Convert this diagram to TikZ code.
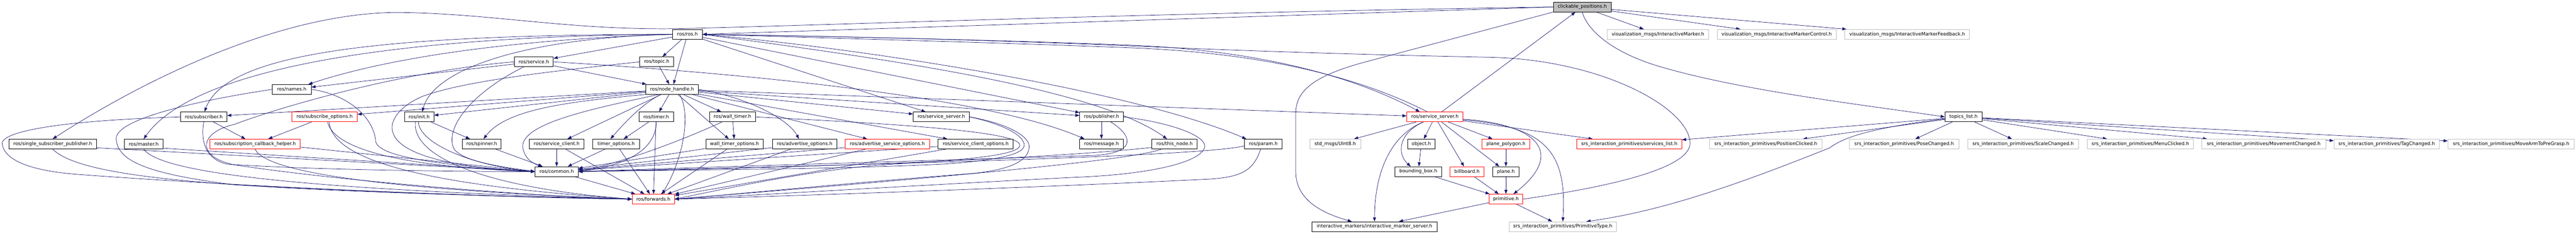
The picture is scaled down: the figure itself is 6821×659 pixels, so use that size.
\documentclass[tikz,border=0pt]{standalone}
\usepackage{fontspec}
\setmainfont{DejaVu Sans}
\usetikzlibrary{arrows.meta}
\definecolor{edgeblue}{HTML}{191970}
\definecolor{lgray}{HTML}{BFBFBF}
\newcommand\hfnt{\fontsize{12.6}{14}\selectfont}
\pgfdeclarelayer{edges}
\pgfsetlayers{edges,main}
\begin{document}
\begin{tikzpicture}[x=1pt,y=-1pt,
  hb/.style={draw=black, line width=1.1pt, rectangle, minimum height=26pt, inner sep=0pt, font=\hfnt, fill=white},
  hr/.style={hb, draw=red},
  hg/.style={hb, draw=lgray},
  dep/.style={draw=edgeblue, line width=1pt, -{Triangle[length=11pt,width=8pt]}}]
\useasboundingbox (0,0) rectangle (6821,659);
% ---------------- nodes ----------------
\node[hb, minimum width=153pt, fill=lgray] (cp) at (4189.5,18.5) {clickable\_positions.h};
\node[hb, minimum width=79pt] (ros) at (1820.5,91) {ros/ros.h};
\node[hg, minimum width=268pt] (vim) at (4390,91) {visualization\_msgs/InteractiveMarker.h};
\node[hg, minimum width=315pt] (vimc) at (4704.5,91) {visualization\_msgs/InteractiveMarkerControl.h};
\node[hg, minimum width=330pt] (vimf) at (5050,91) {visualization\_msgs/InteractiveMarkerFeedback.h};
\node[hb, minimum width=103pt] (service) at (1413.5,164) {ros/service.h};
\node[hb, minimum width=90pt] (topic) at (1739,164) {ros/topic.h};
\node[hb, minimum width=103pt] (names) at (772.5,237) {ros/names.h};
\node[hb, minimum width=139pt] (nh) at (1779.5,237) {ros/node\_handle.h};
\node[hb, minimum width=123pt] (sub) at (539.5,310) {ros/subscriber.h};
\node[hr, minimum width=173pt] (subopt) at (859.5,310) {ros/subscribe\_options.h};
\node[hb, minimum width=78pt] (init) at (1110,310) {ros/init.h};
\node[hb, minimum width=91pt] (timer) at (1737.5,310) {ros/timer.h};
\node[hb, minimum width=121pt] (wtimer) at (1939.5,310) {ros/wall\_timer.h};
\node[hb, minimum width=149pt] (ss) at (2492.5,310) {ros/service\_server.h};
\node[hb, minimum width=115pt] (pub) at (2916.5,310) {ros/publisher.h};
\node[hr, minimum width=149pt] (ss2) at (3799.5,310) {ros/service\_server.h};
\node[hb, minimum width=98pt] (topics) at (5199,310) {topics\_list.h};
\node[hb, minimum width=231pt] (ssp) at (139.5,382) {ros/single\_subscriber\_publisher.h};
\node[hb, minimum width=103pt] (master) at (380.5,382) {ros/master.h};
\node[hr, minimum width=239pt] (sch) at (675.5,382) {ros/subscription\_callback\_helper.h};
\node[hb, minimum width=103pt] (spinner) at (1275.5,382) {ros/spinner.h};
\node[hb, minimum width=144pt] (sc) at (1474,382) {ros/service\_client.h};
\node[hb, minimum width=123pt] (topt) at (1631.5,382) {timer\_options.h};
\node[hb, minimum width=152pt] (wtopt) at (1945,382) {wall\_timer\_options.h};
\node[hb, minimum width=171pt] (advopt) at (2130.5,382) {ros/advertise\_options.h};
\node[hr, minimum width=223pt] (asopt) at (2349.5,382) {ros/advertise\_service\_options.h};
\node[hb, minimum width=199pt] (scopt) at (2583.5,382) {ros/service\_client\_options.h};
\node[hb, minimum width=117pt] (msg) at (2916.5,382) {ros/message.h};
\node[hb, minimum width=120pt] (thisnode) at (3110,382) {ros/this\_node.h};
\node[hb, minimum width=100pt] (param) at (3345,382) {ros/param.h};
\node[hg, minimum width=135pt] (uint8) at (3535.5,382) {std\_msgs/UInt8.h};
\node[hb, minimum width=73pt] (object) at (3763.5,382) {object.h};
\node[hr, minimum width=127pt] (pp) at (3987.5,382) {plane\_polygon.h};
\node[hr, minimum width=278pt] (slist) at (4314,382) {srs\_interaction\_primitives/services\_list.h};
\node[hg, minimum width=297pt] (posclk) at (4675.5,382) {srs\_interaction\_primitives/PositionClicked.h};
\node[hg, minimum width=290pt] (pose) at (5042,382) {srs\_interaction\_primitives/PoseChanged.h};
\node[hg, minimum width=294pt] (scale) at (5357,382) {srs\_interaction\_primitives/ScaleChanged.h};
\node[hg, minimum width=281pt] (menu) at (5667.5,382) {srs\_interaction\_primitives/MenuClicked.h};
\node[hg, minimum width=328pt] (move) at (5994,382) {srs\_interaction\_primitives/MovementChanged.h};
\node[hg, minimum width=279pt] (tag) at (6319.5,382) {srs\_interaction\_primitives/TagChanged.h};
\node[hg, minimum width=334pt] (arm) at (6649,382) {srs\_interaction\_primitives/MoveArmToPreGrasp.h};
\node[hb, minimum width=114pt] (common) at (1474,455) {ros/common.h};
\node[hb, minimum width=123pt] (bb) at (3755.5,455) {bounding\_box.h};
\node[hr, minimum width=89pt] (billboard) at (3884.5,455) {billboard.h};
\node[hb, minimum width=69pt] (plane) at (3987.5,455) {plane.h};
\node[hr, minimum width=112pt] (fwd) at (1730,528) {ros/forwards.h};
\node[hr, minimum width=89pt] (prim) at (3987.5,528) {primitive.h};
\node[hb, minimum width=331pt] (ims) at (3639.5,601) {interactive\_markers/interactive\_marker\_server.h};
\node[hg, minimum width=284pt] (ptype) at (4138,601) {srs\_interaction\_primitives/PrimitiveType.h};
% ---------------- edges ----------------
\begin{pgfonlayer}{edges}
% clickable_positions.h
\draw[dep] (cp.west) -- (ros.east);
\draw[dep] (cp.west) .. controls (3000,35) and (2100,70) .. (1790,76) .. controls (1500,80) and (1300,35) .. (1050,33) .. controls (750,35) and (400,200) .. (ssp.north);
\draw[dep] (cp) -- (vim);
\draw[dep] (cp) -- (vimc);
\draw[dep] (cp) -- (vimf);
\draw[dep] (cp.south west) -- (3620,163) .. controls (3480,200) and (3431,240) .. (3431,300) -- (3431,455) .. controls (3431,530) and (3500,565) .. ([xshift=-60pt]ims.north);
\draw[dep] (cp.south) .. controls (4200,70) and (4250,130) .. (4380,172) .. controls (4600,240) and (4950,280) .. (topics.west);
% red service_server.h
\draw[dep] (ss2) -- (cp);
\draw[dep] (ros.east) .. controls (2300,98) and (2700,108) .. (3000,120) .. controls (3300,133) and (3560,190) .. ([xshift=35pt]ss2.north west);
\draw[dep] ([xshift=55pt]ss2.north west) .. controls (3580,195) and (3320,140) .. (3000,127) .. controls (2700,115) and (2300,104) .. (ros.east);
\draw[dep] (ss2) -- (uint8);
\draw[dep] (ss2) -- (object);
\draw[dep] ([xshift=-31pt]ss2.south) .. controls (3700,355) and (3700,410) .. ([xshift=-20pt]bb.north);
\draw[dep] ([xshift=-31pt]ss2.south) .. controls (3680,360) and (3640,460) .. (ims.north);
\draw[dep] (ss2) -- (billboard);
\draw[dep] (ss2) -- (plane);
\draw[dep] (ss2) -- (pp);
\draw[dep] ([yshift=-6pt]ss2.east) .. controls (4080,330) and (4140,410) .. ([xshift=20pt]prim.north);
\draw[dep] ([yshift=-8pt]ss2.east) .. controls (4090,335) and (4150,400) .. (ptype.north);
\draw[dep] (ss2) -- (slist);
% primitives
\draw[dep] (object) -- (bb);
\draw[dep] (pp) -- (plane);
\draw[dep] (bb) -- (prim);
\draw[dep] (billboard) -- (prim);
\draw[dep] (plane) -- (prim);
\draw[dep] (prim) -- (ims);
\draw[dep] (prim) -- (ptype);
\draw[dep] (prim.east) .. controls (4300,490) and (4475,440) .. (4475,380) .. controls (4475,290) and (4250,160) .. (3950,152) .. controls (3600,145) and (3300,135) .. (3000,122) .. controls (2600,105) and (2200,96) .. (ros.east);
% topics_list.h
\draw[dep] (topics) -- (posclk);
\draw[dep] (topics) -- (slist);
\draw[dep] ([yshift=-5pt]topics.west) .. controls (4950,340) and (4880,365) .. (4845,392) .. controls (4600,490) and (4400,560) .. ([xshift=-80pt]ptype.north east);
\draw[dep] (topics) -- (pose);
\draw[dep] (topics) -- (scale);
\draw[dep] (topics) -- (menu);
\draw[dep] (topics) -- (move);
\draw[dep] (topics) -- (tag);
\draw[dep] (topics) -- (arm);
% ros/ros.h
\draw[dep] (ros) -- (topic);
\draw[dep] (ros) -- (nh);
\draw[dep] (ros) -- (service);
\draw[dep] (ros) -- (pub);
\draw[dep] (ros) -- (ss);
\draw[dep] (ros.west) .. controls (1500,100) and (1100,130) .. ([xshift=-8pt]names.north east);
\draw[dep] (ros.west) .. controls (1100,95) and (520,170) .. (master.north);
\draw[dep] (ros.west) .. controls (1000,92) and (600,140) .. ([xshift=2pt]sub.north);
\draw[dep] (ros.west) .. controls (1400,100) and (1150,180) .. ([xshift=8pt]init.north);
\draw[dep] (ros.east) .. controls (2300,150) and (2900,230) .. ([xshift=-20pt]thisnode.north);
\draw[dep] (ros.east) .. controls (2300,130) and (3000,240) .. ([xshift=-45pt]param.north);
% ros/service.h
\draw[dep] (service) -- (nh);
\draw[dep] (service) -- (names);
\draw[dep] ([xshift=-27pt]service.south) .. controls (1260,240) and (1180,330) .. (1200,390) .. controls (1215,430) and (1350,445) .. (common.west);
\draw[dep] (service.west) .. controls (1100,185) and (780,270) .. (620,330) .. controls (530,350) and (515,415) .. (620,437) .. controls (900,480) and (1400,520) .. (fwd.west);
\draw[dep] (service.east) .. controls (1900,190) and (2600,250) .. ([xshift=-45pt]msg.north);
% ros/topic.h
\draw[dep] (topic) -- (nh);
\draw[dep] (topic.west) .. controls (1450,190) and (1230,215) .. (1120,255) .. controls (1060,280) and (1030,320) .. (1040,350) .. controls (1055,410) and (1200,445) .. (common.west);
% ros/node_handle.h
\draw[dep] (nh) -- (sub);
\draw[dep] (nh) -- (subopt);
\draw[dep] (nh) -- (init);
\draw[dep] (nh) -- (timer);
\draw[dep] (nh) -- (wtimer);
\draw[dep] (nh) -- (sc);
\draw[dep] ([xshift=-30pt]nh.south) .. controls (1700,275) and (1650,330) .. ([xshift=-15pt]topt.north);
\draw[dep] (nh) -- (wtopt);
\draw[dep] (nh.south west) .. controls (1500,270) and (1340,290) .. ([xshift=5pt]spinner.north);
\draw[dep] ([xshift=-35pt]nh.south) .. controls (1560,290) and (1370,330) .. (1385,395) .. controls (1392,425) and (1415,435) .. ([xshift=-38pt]common.north);
\draw[dep] (nh.east) .. controls (1990,260) and (2090,320) .. ([xshift=-15pt]advopt.north);
\draw[dep] (nh) -- (asopt);
\draw[dep] (nh) -- (scopt);
\draw[dep] (nh) -- (ss);
\draw[dep] (nh) -- (pub);
\draw[dep] (nh) -- (ss2);
\draw[dep] ([xshift=20pt]nh.south) .. controls (1830,300) and (1810,420) .. ([xshift=23pt]fwd.north);
% timers
\draw[dep] (timer) -- (topt);
\draw[dep] (timer.south) .. controls (1738,400) and (1650,440) .. (common.east);
\draw[dep] (timer) -- (fwd);
\draw[dep] (wtimer) -- (wtopt);
\draw[dep] ([xshift=-28pt]wtimer.south) .. controls (1800,375) and (1650,430) .. (common.east);
\draw[dep] (wtimer.east) .. controls (2300,325) and (2690,345) .. (2700,383) .. controls (2710,420) and (2450,428) .. (2300,440) .. controls (2100,460) and (1900,505) .. (fwd.east);
% service_server / publisher loops
\draw[dep] (ss.east) .. controls (2660,330) and (2712,360) .. (2712,385) .. controls (2712,415) and (2600,428) .. (2500,435) .. controls (2200,450) and (1800,450) .. (common.east);
\draw[dep] (ss.east) .. controls (2680,330) and (2725,365) .. (2725,388) .. controls (2725,435) and (2650,455) .. (2550,462) .. controls (2250,485) and (1950,515) .. (fwd.east);
\draw[dep] (pub) -- (msg);
\draw[dep] ([xshift=25pt]pub.south) .. controls (3000,360) and (3010,405) .. (2900,412) .. controls (2500,425) and (1800,445) .. (common.east);
\draw[dep] (pub.east) .. controls (3100,325) and (3195,360) .. (3190,390) .. controls (3180,430) and (3050,462) .. (2850,470) .. controls (2450,490) and (2000,518) .. (fwd.east);
% options row to common / forwards
\draw[dep] (wtopt) -- (common);
\draw[dep] (wtopt) -- (fwd);
\draw[dep] (advopt) -- (common);
\draw[dep] (advopt) -- (fwd);
\draw[dep] (asopt) -- (common);
\draw[dep] (asopt) -- (fwd);
\draw[dep] (scopt) -- (common);
\draw[dep] (scopt) -- (fwd);
\draw[dep] ([yshift=-9pt]thisnode.west) .. controls (2880,410) and (2400,440) .. (common.east);
\draw[dep] ([xshift=-35pt]thisnode.south) .. controls (3000,425) and (2500,470) .. (fwd.east);
\draw[dep] ([yshift=-5pt]param.west) .. controls (3200,410) and (2600,430) .. (common.east);
\draw[dep] ([xshift=-7pt]param.south) .. controls (3320,450) and (3290,470) .. (3200,475) .. controls (2800,495) and (2100,520) .. (fwd.east);
\draw[dep] (common) -- (fwd);
\draw[dep] (sc) -- (common);
\draw[dep] (sc) -- (fwd);
\draw[dep] (topt) -- (common);
\draw[dep] (topt) -- (fwd);
\draw[dep] (spinner) -- (common);
% ros/init.h
\draw[dep] (init) -- (spinner);
\draw[dep] ([xshift=-2pt]init.south) .. controls (1110,380) and (1250,440) .. (common.west);
\draw[dep] ([xshift=-10pt]init.south) .. controls (1090,420) and (1300,500) .. (fwd.west);
% left part
\draw[dep] ([yshift=-10pt]ssp.east) -- (common.west);
\draw[dep] (ssp.south) .. controls (220,475) and (600,505) .. (fwd.west);
\draw[dep] ([yshift=-11pt]master.east) -- (common.west);
\draw[dep] (master.south) .. controls (420,450) and (700,500) .. (fwd.west);
\draw[dep] (sub) -- (sch);
\draw[dep] (sub.south) .. controls (532,370) and (540,420) .. (600,435) .. controls (800,450) and (1200,455) .. (common.west);
\draw[dep] (sub.west) .. controls (150,320) and (0,350) .. (6,382) .. controls (12,425) and (80,452) .. (200,462) .. controls (600,492) and (1200,520) .. (fwd.west);
\draw[dep] ([yshift=-8pt]sch.east) -- (common.west);
\draw[dep] (sch.south) .. controls (700,450) and (950,500) .. (fwd.west);
\draw[dep] (subopt) -- (sch);
\draw[dep] ([xshift=8pt]subopt.south) .. controls (880,380) and (1000,440) .. (common.west);
\draw[dep] ([xshift=12pt]subopt.south) .. controls (880,420) and (1100,490) .. (fwd.west);
\draw[dep] (names.east) .. controls (920,250) and (990,310) .. (995,376) .. controls (1005,420) and (1200,440) .. (common.west);
\draw[dep] (names.west) .. controls (500,270) and (300,320) .. (308,370) .. controls (312,430) and (400,462) .. (620,490) .. controls (1000,510) and (1400,525) .. (fwd.west);
\end{pgfonlayer}
\end{tikzpicture}
\end{document}
